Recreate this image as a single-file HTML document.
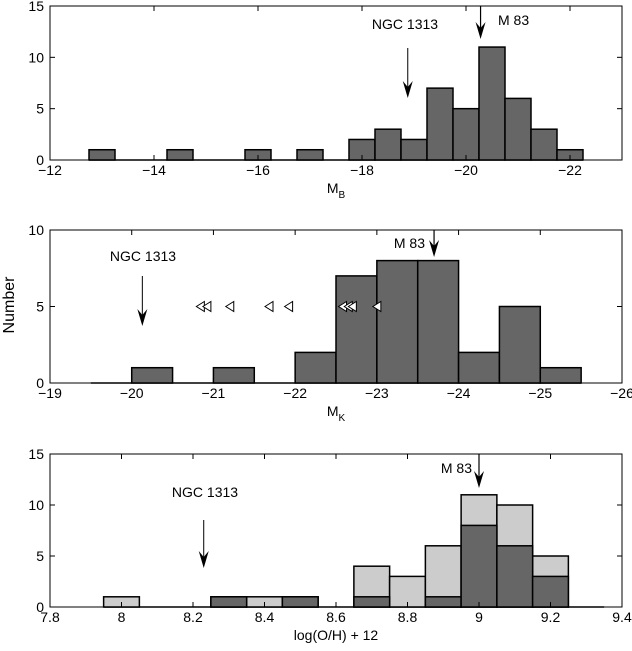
<!DOCTYPE html>
<html><head><meta charset="utf-8">
<style>
body{margin:0;background:#fff;}
svg{display:block;font-family:"Liberation Sans",Arial,sans-serif;}
text{font-size:14px;fill:#000;}
</style></head>
<body>
<svg id="fig" width="632" height="651" viewBox="0 0 632 651" xmlns="http://www.w3.org/2000/svg">
<text transform="translate(14,305) rotate(-90)" text-anchor="middle" style="font-size:16px">Number</text>
</svg>
<script>
// Panel 1: M_B
const mbCenters=[-13,-13.5,-14,-14.5,-15,-15.5,-16,-16.5,-17,-17.5,-18,-18.5,-19,-19.5,-20,-20.5,-21,-21.5,-22];
const mbCounts=[1,0,0,1,0,0,1,0,1,0,2,3,2,7,5,11,6,3,1];
const mbXTicks=[-12,-14,-16,-18,-20,-22];
const mbYTicks=[0,5,10,15];
// Panel 2: M_K
const mkCenters=[-19.75,-20.25,-20.75,-21.25,-21.75,-22.25,-22.75,-23.25,-23.75,-24.25,-24.75,-25.25];
const mkCounts=[0,1,0,1,0,2,7,8,8,2,5,1];
const mkLimits=[-20.84,-20.92,-21.2,-21.68,-21.92,-22.58,-22.65,-22.7,-23.0];
const mkXTicks=[-19,-20,-21,-22,-23,-24,-25,-26];
const mkYTicks=[0,5,10];
// Panel 3: log(O/H)+12
const ohCenters=[8.0,8.1,8.2,8.3,8.4,8.5,8.6,8.7,8.8,8.9,9.0,9.1,9.2,9.3];
const ohTotal=[1,0,0,1,1,1,0,4,3,6,11,10,5,0];
const ohDark=[0,0,0,1,0,1,0,1,0,1,8,6,3,0];
const ohXTicks=[7.8,8,8.2,8.4,8.6,8.8,9,9.2,9.4];
const ohYTicks=[0,5,10,15];

const NS="http://www.w3.org/2000/svg";
const svg=document.getElementById('fig');
function el(t,a,p){const e=document.createElementNS(NS,t);for(const k in a)e.setAttribute(k,a[k]);(p||svg).appendChild(e);return e;}

function panel(o){
  const g=el('g',{});
  
  
  const X=v=>o.L+(v-o.x0)/(o.x1-o.x0)*(o.R-o.L);
  const Y=v=>o.B-(v-o.y0)/(o.y1-o.y0)*(o.B-o.T);
  o.X=X;o.Y=Y;o.g=g;
  const bl=el('line',{x1:X(o.base[0]),x2:X(o.base[1]),y1:o.B,y2:o.B,stroke:'#000','stroke-width':1.5},g);
  
  
  return o;
}
function bars(o,centers,counts,w,fill,nm){
  centers.forEach((c,i)=>{
    if(counts[i]<=0)return;
    const xa=o.X(c-w/2),xb=o.X(c+w/2);
    const r=el('rect',{x:Math.min(xa,xb),y:o.Y(counts[i]),width:Math.abs(xb-xa),height:o.B-o.Y(counts[i]),fill:fill,stroke:'#000','stroke-width':1.5},o.g);
    
    
  });
}
function axes(o,xt,yt,xfmt,xlabel,sub){
  const g=o.g;
  const f=el('rect',{x:o.L,y:o.T,width:o.R-o.L,height:o.B-o.T,fill:'none',stroke:'#000','stroke-width':1},g);
  
  
  xt.forEach(v=>{
    const x=o.X(v);
    el('line',{x1:x,x2:x,y1:o.B,y2:o.B-5,stroke:'#000'},g);
    el('line',{x1:x,x2:x,y1:o.T,y2:o.T+5,stroke:'#000'},g);
    const t=el('text',{x:x,y:o.B+15,'text-anchor':'middle'},g);
    t.textContent=xfmt(v);
    
    
  });
  yt.forEach(v=>{
    const y=o.Y(v);
    el('line',{x1:o.L,x2:o.L+5,y1:y,y2:y,stroke:'#000'},g);
    el('line',{x1:o.R,x2:o.R-5,y1:y,y2:y,stroke:'#000'},g);
    const t=el('text',{x:o.L-6,y:y+5,'text-anchor':'end'},g);
    t.textContent=v;
    
    
  });
  const t=el('text',{x:(o.L+o.R)/2,y:o.B+33,'text-anchor':'middle'},g);
  
  
  t.textContent=xlabel;
  if(sub){const s=el('tspan',{dy:5,style:'font-size:10px'},t);s.textContent=sub;}
}
function arrow(o,xv,y1,y2,thick,nm){
  const x=o.X(xv);
  const a=el('g',{},o.g);
  
  
  el('line',{x1:x,x2:x,y1:y1,y2:y2-4,stroke:'#000','stroke-width':thick?1.2:1},a);
  el('path',{d:`M${x-5},${y2-17} L${x},${y2} L${x+5},${y2-17} L${x},${y2-11} Z`,fill:'#000'},a);
}
function label(o,x,y,txt,anchor,nm){
  const t=el('text',{x:x,y:y,'text-anchor':anchor},o.g);
  
  
  t.textContent=txt;
}
const fmtMinus=v=>(v<0?'\u2212'+(-v):''+v);

// Panel 1
const p1=panel({name:'panel-mb',L:50,R:622,T:6,B:160,x0:-12,x1:-23,y0:0,y1:15,base:[-12.75,-22.25]});
bars(p1,mbCenters,mbCounts,0.5,'#666','bar-mb');
axes(p1,mbXTicks,mbYTicks,fmtMinus,'M','B');
arrow(p1,-20.28,6,39,true,'m83-arrow-mb');
arrow(p1,-18.88,48,98,false,'ngc1313-arrow-mb');
label(p1,405,29,'NGC 1313','middle','ngc1313-label-mb');
label(p1,498,25,'M 83','start','m83-label-mb');

// Panel 2
const p2=panel({name:'panel-mk',L:50,R:622,T:230,B:383,x0:-19,x1:-26,y0:0,y1:10,base:[-19.5,-25.5]});
bars(p2,mkCenters,mkCounts,0.5,'#666','bar-mk');
mkLimits.forEach((v,i)=>{
  const x=p2.X(v),y=p2.Y(5);
  const t=el('path',{d:`M${x-4},${y} L${x+4},${y-5} L${x+4},${y+5} Z`,fill:'#fff',stroke:'#000','stroke-width':1},p2.g);
  
  
});
axes(p2,mkXTicks,mkYTicks,fmtMinus,'M','K');
arrow(p2,-23.7,230,257,true,'m83-arrow-mk');
arrow(p2,-20.13,276,326,false,'ngc1313-arrow-mk');
label(p2,143,261,'NGC 1313','middle','ngc1313-label-mk');
label(p2,425,248,'M 83','end','m83-label-mk');

// Panel 3
const p3=panel({name:'panel-oh',L:50,R:622,T:454,B:607,x0:7.8,x1:9.4,y0:0,y1:15,base:[7.95,9.35]});
bars(p3,ohCenters,ohTotal,0.1,'#ccc','bar-oh-total');
bars(p3,ohCenters,ohDark,0.1,'#666','bar-oh-subset');
axes(p3,ohXTicks,ohYTicks,v=>''+v,'log(O/H) + 12','');
arrow(p3,9.0,454,488,true,'m83-arrow-oh');
arrow(p3,8.23,520,568,false,'ngc1313-arrow-oh');
label(p3,205,497,'NGC 1313','middle','ngc1313-label-oh');
label(p3,472,473,'M 83','end','m83-label-oh');
</script>
</body></html>
